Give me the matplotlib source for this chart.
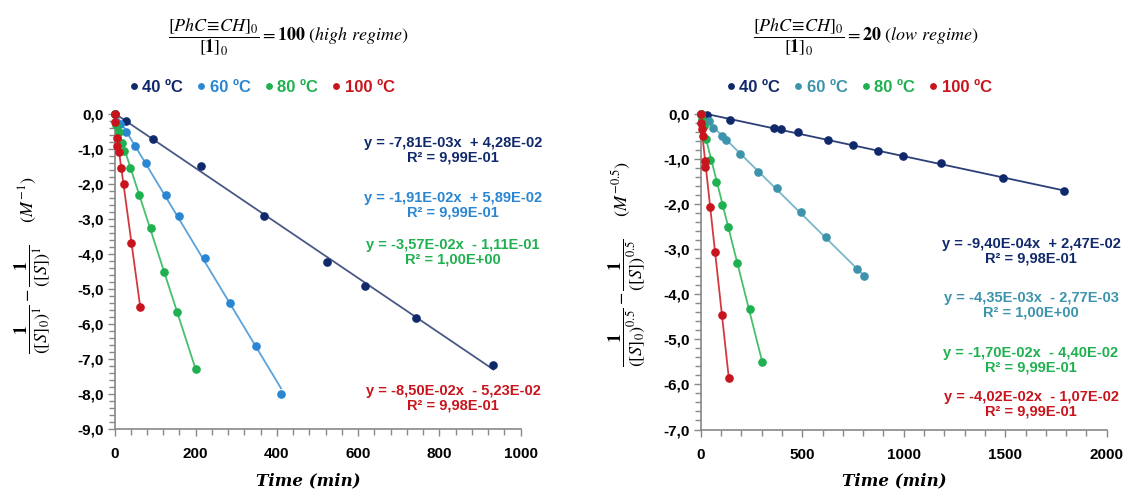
import numpy as np
import matplotlib
matplotlib.use('Agg')
import matplotlib.pyplot as plt
from matplotlib.ticker import MultipleLocator, FuncFormatter

plt.rcParams['font.family'] = ['Liberation Sans', 'DejaVu Sans']
plt.rcParams['mathtext.fontset'] = 'stix'

labels = ['40 ºC', '60 ºC', '80 ºC', '100 ºC']

# high regime (left panel): time in min, 1/[S]0 - 1/[S] in M^-1
hi_t = [
    [0, 28, 96, 213, 367, 524, 617, 743, 933],
    [0, 14, 27.5, 49.6, 78, 127, 160, 223, 285, 348, 410],
    [0, 4.5, 11, 19, 24, 38, 61, 89, 121, 155, 200],
    [0, 2, 7, 7, 10, 16, 24, 41.4, 63.5],
]
hi_y = [
    [0, -0.18, -0.71, -1.47, -2.91, -4.21, -4.90, -5.83, -7.16],
    [0, -0.27, -0.51, -0.90, -1.40, -2.30, -2.91, -4.11, -5.39, -6.62, -7.99],
    [0, -0.30, -0.50, -0.83, -1.04, -1.53, -2.30, -3.25, -4.51, -5.66, -7.28],
    [0, -0.21, -0.67, -0.90, -1.09, -1.53, -2.00, -3.69, -5.50],
]
hi_eq = ['y = -7,81E-03x  + 4,28E-02\nR² = 9,99E-01',
         'y = -1,91E-02x  + 5,89E-02\nR² = 9,99E-01',
         'y = -3,57E-02x  - 1,11E-01\nR² = 1,00E+00',
         'y = -8,50E-02x  - 5,23E-02\nR² = 9,98E-01']

# low regime (right panel): M^-0.5
lo_t = [
    [0, 33, 144, 363, 396, 481, 629, 752, 875, 998, 1184, 1488, 1790],
    [0, 40, 62, 105, 124, 192, 280, 376, 494, 619, 768, 803],
    [0, 8, 14, 24, 46, 73, 106, 134.5, 179, 243, 303.5],
    [0, 2, 4, 9, 23, 21, 45, 72, 106, 138],
]
lo_y = [
    [0, -0.02, -0.13, -0.30, -0.33, -0.41, -0.58, -0.69, -0.81, -0.94, -1.09, -1.43, -1.71],
    [0, -0.16, -0.30, -0.49, -0.58, -0.89, -1.29, -1.65, -2.17, -2.73, -3.44, -3.60],
    [0, -0.11, -0.27, -0.55, -1.03, -1.51, -2.02, -2.51, -3.30, -4.32, -5.51],
    [0, -0.20, -0.34, -0.49, -1.04, -1.17, -2.07, -3.07, -4.46, -5.86],
]
lo_eq = ['y = -9,40E-04x  + 2,47E-02\nR² = 9,98E-01',
         'y = -4,35E-03x  - 2,77E-03\nR² = 1,00E+00',
         'y = -1,70E-02x  - 4,40E-02\nR² = 9,99E-01',
         'y = -4,02E-02x  - 1,07E-02\nR² = 9,99E-01']

hi_colors = ['#10296b', '#2a86d2', '#1fb04f', '#c8141c']
hi_lines = ['#4a5886', '#5aa2dc', '#45c06c', '#d23a3f']
lo_colors = ['#10296b', '#3d93ac', '#1fb04f', '#c8141c']
lo_lines = ['#2c3f78', '#78b6c8', '#45c06c', '#d23a3f']

W, H = 1130, 491
fig = plt.figure(figsize=(W / 100, H / 100), dpi=100)


def px_axes(x0, x1, y0, y1):
    return fig.add_axes([x0 / W, 1 - y1 / H, (x1 - x0) / W, (y1 - y0) / H])


def style(ax, xmax, xmaj, xmin, ymin):
    ax.set_xlim(0, xmax)
    ax.set_ylim(ymin, 0)
    for s in ['top', 'right']:
        ax.spines[s].set_visible(False)
    for s in ['left', 'bottom']:
        ax.spines[s].set_color('#888888')
        ax.spines[s].set_linewidth(1.2)
    ax.xaxis.set_major_locator(MultipleLocator(xmaj))
    ax.xaxis.set_minor_locator(MultipleLocator(xmin))
    ax.yaxis.set_major_locator(MultipleLocator(1))
    ax.yaxis.set_minor_locator(MultipleLocator(0.2))
    ax.yaxis.set_major_formatter(FuncFormatter(lambda v, p: f'{v:.1f}'.replace('.', ',').replace('-0,0', '0,0')))
    ax.tick_params(which='both', direction='out', color='#888888', width=1.0)
    ax.tick_params(which='major', length=5, pad=3)
    ax.tick_params(which='minor', length=4)
    ax.tick_params(axis='x', pad=8)
    for lab in ax.get_xticklabels() + ax.get_yticklabels():
        lab.set_fontweight('bold')
        lab.set_fontsize(11)


def panel(ax, ts, ys, eqs, cols, lcols, eq_x, eq_y):
    for t, y, c, lc, lab in zip(ts, ys, cols, lcols, labels):
        t = np.array(t, float)
        y = np.array(y, float)
        k, b = np.polyfit(t, y, 1)
        xx = np.array([0, t.max()])
        ax.plot(xx, k * xx + b, color=lc, lw=1.3, zorder=2)
        ax.plot(t, y, 'o', color=c, ms=5.2, label=lab, zorder=3, clip_on=False)
    for e, c, yy in zip(eqs, cols, eq_y):
        fig.text(eq_x / W, 1 - yy / H, e, color=c, fontsize=10.5, fontweight='bold',
                 ha='center', va='center', linespacing=1.05)


ax1 = px_axes(114.5, 520.7, 114.3, 429.3)
panel(ax1, hi_t, hi_y, hi_eq, hi_colors, hi_lines, 453, [150, 205, 252, 398])
style(ax1, 1000, 200, 40, -9)

ax2 = px_axes(700.7, 1106.7, 114, 429.5)
panel(ax2, lo_t, lo_y, lo_eq, lo_colors, lo_lines, 1031, [251, 305, 360, 404])
style(ax2, 2000, 500, 100, -7)

for ax, cx in [(ax1, 261), (ax2, 858)]:
    leg = ax.legend(loc='center', bbox_to_anchor=(cx / W, 1 - 87 / H), bbox_transform=fig.transFigure,
                    ncol=4, frameon=False, markerscale=0.75, handletextpad=0.1, columnspacing=0.7,
                    handlelength=0.8, labelcolor='markerfacecolor',
                    prop={'weight': 'bold', 'size': 12})

fig.text(288 / W, 1 - 37 / H,
         r'$\dfrac{[PhC\!\equiv\!CH]_0}{[\mathbf{1}]_0} = \mathbf{100}\ (high\ regime)$',
         ha='center', va='center', fontsize=13)
fig.text(866 / W, 1 - 37 / H,
         r'$\dfrac{[PhC\!\equiv\!CH]_0}{[\mathbf{1}]_0} = \mathbf{20}\ (low\ regime)$',
         ha='center', va='center', fontsize=13)

for cx in [308, 894]:
    fig.text(cx / W, 1 - 481 / H, 'Time (min)', ha='center', va='center', fontsize=12,
             fontweight='bold', fontstyle='italic', family='DejaVu Serif')

fig.text(32 / W, 1 - 265 / H,
         r'$\dfrac{\mathbf{1}}{([S]_0)^1} - \dfrac{\mathbf{1}}{([S])^1}\quad\ \ (M^{-1})$',
         rotation=90, ha='center', va='center', fontsize=13)
fig.text(627 / W, 1 - 264 / H,
         r'$\dfrac{\mathbf{1}}{([S]_0)^{0.5}} - \dfrac{\mathbf{1}}{([S])^{0.5}}\quad\ \ (M^{-0.5})$',
         rotation=90, ha='center', va='center', fontsize=13)

fig.savefig('out.png', dpi=100)
